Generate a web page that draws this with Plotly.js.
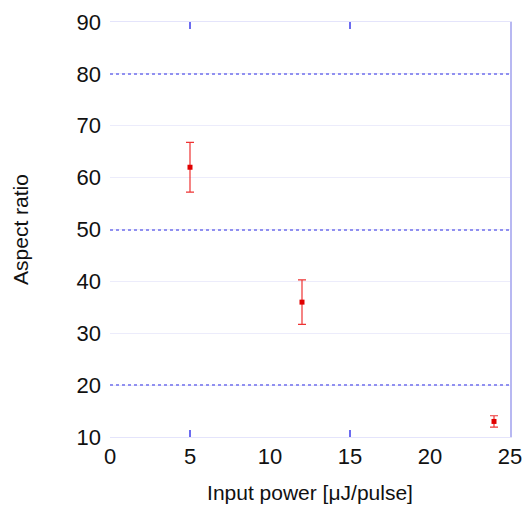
<!DOCTYPE html>
<html><head><meta charset="utf-8">
<script src="https://cdn.plot.ly/plotly-3.0.1.min.js"></script>
<style>body{margin:0;background:#fff}</style>
</head><body>
<div id="chart" style="width:526px;height:508px"></div>
<script>
const inputPower = [5, 12, 24];
const aspectRatio = [62, 36, 13];
const errorSize = [4.8, 4.3, 1.1];
const xTickVals = [0, 5, 10, 15, 20, 25];
const yTickVals = [10, 20, 30, 40, 50, 60, 70, 80, 90];
const yMajorGrid = [20, 50, 80];

const font = {family: 'Liberation Sans, Arial, sans-serif', color: '#111'};

const data = [{
  x: inputPower, y: aspectRatio, type: 'scatter', mode: 'markers',
  marker: {symbol: 'square', size: 5, color: '#e00000'},
  error_y: {type: 'data', array: errorSize, visible: true, color: '#ee3333', thickness: 1.2, width: 4},
  showlegend: false
}, {
  x: [null], y: [null], xaxis: 'x2', yaxis: 'y2', showlegend: false, hoverinfo: 'skip'
}];

const layout = {
  width: 526, height: 508,
  margin: {l: 110, r: 16, t: 22, b: 71},
  paper_bgcolor: '#fff', plot_bgcolor: '#fff',
  font: font,
  xaxis: {
    range: [0, 25], tickvals: xTickVals, ticktext: xTickVals.map(String),
    tickfont: {size: 22, family: font.family, color: '#111'},
    showgrid: false, zeroline: false, ticks: '',
    showline: true, linecolor: '#e4e4fb', linewidth: 1, mirror: true,
    title: {text: 'Input power [μJ/pulse]', font: {size: 21, family: font.family, color: '#111'}, standoff: 16}
  },
  yaxis: {
    range: [10, 90], tickvals: yTickVals, ticktext: yTickVals.map(String),
    tickfont: {size: 22, family: font.family, color: '#111'},
    showgrid: true, gridcolor: '#ececfb', gridwidth: 1, zeroline: false, ticks: '',
    showline: false, ticklabelstandoff: 8,
    title: {text: 'Aspect ratio', font: {size: 21, family: font.family, color: '#111'}, standoff: 42}
  },
  xaxis2: {
    overlaying: 'x', side: 'bottom', range: [0, 25], tickvals: [5, 15],
    showticklabels: false, ticks: 'inside', ticklen: 7, tickcolor: '#6c6cf0', tickwidth: 1.5,
    showgrid: false, zeroline: false, showline: false, mirror: 'ticks'
  },
  yaxis2: {
    overlaying: 'y', side: 'right', range: [10, 90], tickvals: yMajorGrid,
    showticklabels: false, ticks: '', showgrid: true, gridcolor: '#9090f0', gridwidth: 2,
    griddash: 'dot', zeroline: false,
    showline: true, linecolor: '#b8b8f2', linewidth: 2
  }
};

Plotly.newPlot('chart', data, layout, {displayModeBar: false, staticPlot: true});
</script>
</body></html>
